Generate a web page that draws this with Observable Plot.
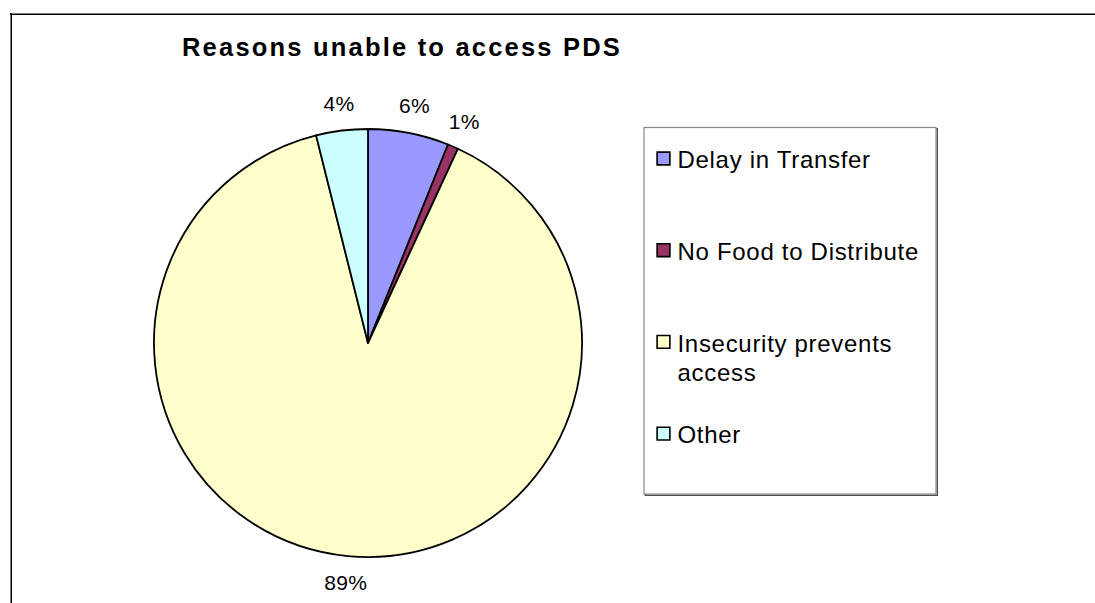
<!DOCTYPE html>
<html>
<head>
<meta charset="utf-8">
<script src="https://cdn.jsdelivr.net/npm/d3@7"></script>
<script src="https://cdn.jsdelivr.net/npm/@observablehq/plot@0.6"></script>
<style>
  html, body { margin: 0; padding: 0; background: #fff; overflow: hidden; }
  #chart svg { display: block; overflow: hidden; }
</style>
</head>
<body>
<div id="chart"></div>
<script>
// ---- data ----
const title = "Reasons unable to access PDS";
const categories = ["Delay in Transfer", "No Food to Distribute", "Insecurity prevents access", "Other"];
const legendLabels = ["Delay in Transfer", "No Food to Distribute", "Insecurity prevents\naccess", "Other"];
const values = [6.1, 0.8, 89.2, 3.9];
const percentLabels = ["6%", "1%", "89%", "4%"];
const colors = ["#9999FF", "#993366", "#FFFFCC", "#CCFFFF"];

// ---- layout ----
const W = 1095, H = 603;
const CX = 368, CY = 343, R = 214;
const toX = px => (px - CX) / R;
const toY = py => (CY - py) / R;
const FONT = "Liberation Sans, Arial, Helvetica, sans-serif";

const table = categories.map((name, i) => ({name, value: values[i], label: percentLabels[i], legend: legendLabels[i], i}));
const arcs = d3.pie().sort(null).value(d => d.value)(table);
const labelR = 1.127;
const labelData = arcs.map(a => {
  const m = (a.startAngle + a.endAngle) / 2;
  return {label: a.data.label, x: labelR * Math.sin(m), y: labelR * Math.cos(m)};
});

const rowTop = 147, rowStep = 91.7;
const legendRows = table.map((d, i) => ({
  name: d.name,
  legend: d.legend,
  sx: toX(663),
  sy: toY(rowTop + i * rowStep + 11),
  tx: toX(677),
  ty: toY(rowTop + i * rowStep)
}));

const pieMark = (index, scales) => {
  const color = scales.color ?? d3.scaleOrdinal(categories, colors);
  const cx = scales.x(0), cy = scales.y(0), r = scales.x(1) - scales.x(0);
  const arc = d3.arc().innerRadius(0).outerRadius(r);
  const g = d3.create("svg:g").attr("transform", `translate(${cx},${cy})`);
  g.selectAll("path").data(arcs).join("path")
    .attr("d", arc)
    .attr("fill", d => color(d.data.name))
    .attr("stroke", "#000")
    .attr("stroke-width", 1.8)
    .attr("stroke-linejoin", "round");
  return g.node();
};

const box = [{x1: toX(644), x2: toX(936), y1: toY(127.5), y2: toY(494)}];
const boxShadow = [{x1: toX(645.3), x2: toX(937.3), y1: toY(128.8), y2: toY(495.3)}];

const plot = Plot.plot({
  width: W,
  height: H,
  margin: 0,
  x: {domain: [toX(0), toX(W)], axis: null},
  y: {domain: [toY(H), toY(0)], axis: null},
  color: {domain: categories, range: colors},
  style: {fontFamily: FONT, background: "#fff", overflow: "hidden"},
  marks: [
    Plot.ruleX([toX(10.75)], {y1: toY(13), y2: toY(H), stroke: "#000", strokeWidth: 1.5}),
    Plot.ruleY([toY(13.75)], {x1: toX(10), x2: toX(W), stroke: "#000", strokeWidth: 1.5}),
    Plot.text([title], {x: toX(181.5), y: toY(55.5), text: d => d, textAnchor: "start", lineAnchor: "bottom", fontSize: 25.5, fontWeight: "bold", fill: "#000"}),
    pieMark,
    Plot.text(labelData, {x: "x", y: "y", text: "label", fontSize: 21, textAnchor: "middle", lineAnchor: "middle", fill: "#000"}),
    Plot.rect(boxShadow, {x1: "x1", x2: "x2", y1: "y1", y2: "y2", fill: "none", stroke: "#444", strokeWidth: 1.3}),
    Plot.rect(box, {x1: "x1", x2: "x2", y1: "y1", y2: "y2", fill: "#fff", stroke: "#888", strokeWidth: 1.2}),
    Plot.dot(legendRows, {x: "sx", y: "sy", fill: "name", symbol: "square", r: 7.2, stroke: "#000", strokeWidth: 1.6}),
    Plot.text(legendRows, {x: "tx", y: "ty", text: "legend", textAnchor: "start", lineAnchor: "top", lineHeight: 1.21, fontSize: 24, fill: "#000"})
  ]
});

const spacing = {"25.5": "2.2px", "24": "0.7px", "21": "0.3px"};
plot.querySelectorAll("[font-size]").forEach(el => {
  const s = spacing[el.getAttribute("font-size")];
  if (s) el.setAttribute("letter-spacing", s);
});

document.getElementById("chart").append(plot);
</script>
</body>
</html>
